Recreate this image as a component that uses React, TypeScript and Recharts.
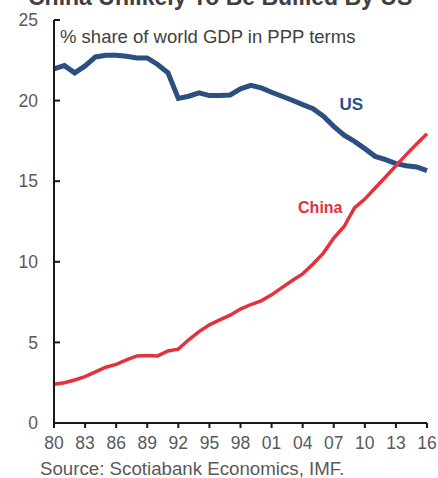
import { LineChart, Line, XAxis, YAxis, ReferenceDot } from "recharts";

const years = [
  1980, 1981, 1982, 1983, 1984, 1985, 1986, 1987, 1988, 1989, 1990, 1991, 1992,
  1993, 1994, 1995, 1996, 1997, 1998, 1999, 2000, 2001, 2002, 2003, 2004, 2005,
  2006, 2007, 2008, 2009, 2010, 2011, 2012, 2013, 2014, 2015, 2016,
];

const usShare = [
  21.97, 22.17, 21.72, 22.15, 22.71, 22.81, 22.81, 22.75, 22.65, 22.65, 22.24,
  21.72, 20.14, 20.27, 20.48, 20.31, 20.31, 20.35, 20.73, 20.95, 20.79, 20.52,
  20.27, 20.02, 19.75, 19.5, 19.03, 18.4, 17.85, 17.47, 17.02, 16.54, 16.34,
  16.09, 15.96, 15.88, 15.65,
];

const chinaShare = [
  2.4, 2.5, 2.67, 2.88, 3.17, 3.46, 3.64, 3.91, 4.16, 4.18, 4.16, 4.47, 4.58,
  5.16, 5.67, 6.09, 6.4, 6.69, 7.07, 7.35, 7.58, 7.95, 8.4, 8.84, 9.25, 9.86,
  10.54, 11.47, 12.19, 13.34, 13.89, 14.58, 15.26, 15.96, 16.65, 17.31, 17.95,
];

const xTicks = [1980, 1983, 1986, 1989, 1992, 1995, 1998, 2001, 2004, 2007, 2010, 2013, 2016];
const yTicks = [0, 5, 10, 15, 20, 25];

const data = years.map((year, i) => ({ year, us: usShare[i], china: chinaShare[i] }));

const font = "'Liberation Sans', Arial, sans-serif";
const tickStyle = { fill: "#595959", fontSize: 17.5, fontFamily: font };
const US_BLUE = "#2b4f81";
const CHINA_RED = "#e2323e";

const seriesLabel = (text: string, color: string, size: number) => (props: any) => {
  const { cx, cy } = props;
  return (
    <text x={cx} y={cy} dy="0.35em" textAnchor="middle" fill={color} fontSize={size} fontWeight="bold" fontFamily={font}>
      {text}
    </text>
  );
};

export default function App() {
  return (
    <div style={{ position: "absolute", left: 0, top: 0, width: 438, height: 478, overflow: "hidden" }}>
      <LineChart width={438} height={478} data={data} margin={{ top: 20, right: 11, bottom: 25, left: 0 }}>
        <XAxis
          dataKey="year"
          type="number"
          domain={[1980, 2016]}
          ticks={xTicks}
          tickFormatter={(v: number) => String(v).slice(2)}
          tick={tickStyle}
          tickSize={5}
          tickMargin={9}
          height={30}
          axisLine={{ stroke: "#1a1a1a", strokeWidth: 2 }}
          tickLine={{ stroke: "#1a1a1a", strokeWidth: 2 }}
          interval={0}
        />
        <YAxis
          domain={[0, 25]}
          ticks={yTicks}
          tick={tickStyle}
          width={54}
          tickSize={-6}
          tickMargin={22}
          axisLine={{ stroke: "#1a1a1a", strokeWidth: 2 }}
          tickLine={{ stroke: "#1a1a1a", strokeWidth: 2 }}
          interval={0}
        />
        <Line type="linear" dataKey="us" stroke={US_BLUE} strokeWidth={5} dot={false} isAnimationActive={false} />
        <Line type="linear" dataKey="china" stroke={CHINA_RED} strokeWidth={3.5} dot={false} isAnimationActive={false} />
        <ReferenceDot x={2008.7} y={19.78} r={0} shape={seriesLabel("US", US_BLUE, 17)} />
        <ReferenceDot x={2005.7} y={13.39} r={0} shape={seriesLabel("China", CHINA_RED, 16)} />
      </LineChart>
      <svg width={438} height={478} style={{ position: "absolute", left: 0, top: 0, pointerEvents: "none" }}>
        <text x={28} y={5} fill="#404040" fontSize={23} fontWeight="bold" fontFamily={font}>
          China Unlikely To Be Bullied By US
        </text>
        <text x={60} y={43} fill="#404040" fontSize={18.5} fontFamily={font}>
          % share of world GDP in PPP terms
        </text>
        <text x={40} y={475} fill="#595959" fontSize={18.7} fontFamily={font}>
          Source: Scotiabank Economics, IMF.
        </text>
      </svg>
    </div>
  );
}
